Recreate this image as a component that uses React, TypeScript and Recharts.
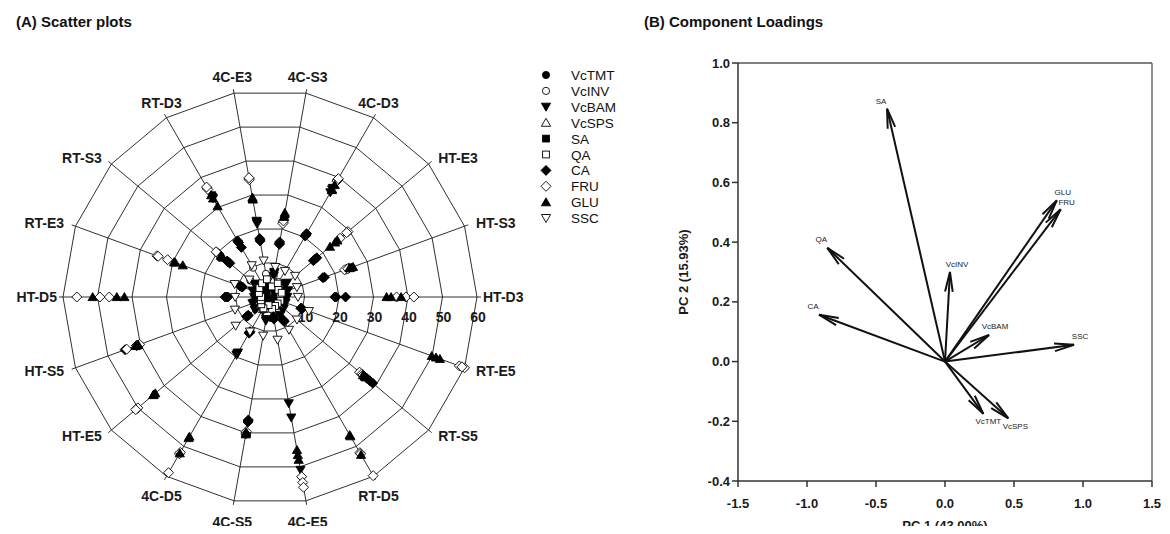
import React from 'react';
import {
  RadarChart,
  PolarGrid,
  PolarAngleAxis,
  PolarRadiusAxis,
  Radar,
  Legend,
  LineChart,
  Line,
  XAxis,
  YAxis,
  ReferenceLine,
} from 'recharts';

const FONT = '"Liberation Sans", Arial, Helvetica, sans-serif';

// ---------- Panel A data (polar scatter) ----------
// categories listed counter-clockwise starting at 3 o'clock
const CATEGORIES = [
  'HT-D3', 'HT-S3', 'HT-E3', '4C-D3', '4C-S3', '4C-E3', 'RT-D3', 'RT-S3', 'RT-E3',
  'HT-D5', 'HT-S5', 'HT-E5', '4C-D5', '4C-S5', '4C-E5', 'RT-D5', 'RT-S5', 'RT-E5',
];
const RADIUS_TICKS = [0, 10, 20, 30, 40, 50, 60];

const VCTMT = [2.2, 2.8, 3.1, 3.4, 4.0, 3.6, 3.0, 2.6, 2.4, 2.0, 2.3, 2.9, 3.5, 3.9, 3.3, 2.9, 2.5, 2.1];
const VCINV = [3.0, 3.6, 4.2, 5.0, 6.2, 6.8, 9.8, 7.4, 4.1, 3.2, 3.0, 3.6, 4.3, 5.1, 4.6, 4.0, 3.4, 3.1];
const VCBAM_R1 = [4.5, 5.2, 6.0, 36.0, 7.0, 22.0, 33.5, 5.5, 5.0, 4.2, 5.0, 5.4, 19.0, 6.5, 31.3, 5.6, 4.8, 4.4];
const VCBAM_R2 = [4.0, 4.8, 5.5, 35.0, 6.2, 21.5, 33.0, 5.0, 4.6, 3.8, 4.6, 5.0, 18.6, 6.0, 35.5, 5.2, 4.4, 4.0];
const VCBAM_R3 = [5.0, 5.6, 6.4, 36.5, 7.4, 22.4, 34.0, 6.0, 5.4, 4.6, 5.4, 5.8, 19.4, 7.0, 50.9, 6.0, 5.2, 4.8];
const VCSPS = [2.6, 3.2, 3.8, 4.1, 4.6, 5.0, 4.2, 3.5, 3.0, 2.7, 3.1, 3.4, 4.0, 4.4, 4.1, 3.6, 3.0, 2.6];
const SA = [1.5, 1.8, 2.2, 2.6, 3.0, 2.7, 2.2, 1.6, 1.4, 1.2, 1.5, 1.9, 2.4, 2.6, 2.1, 1.9, 1.6, 1.4];
const QA = [3.0, 3.6, 3.2, 4.5, 3.1, 5.2, 4.6, 4.0, 3.4, 2.6, 2.8, 3.3, 3.8, 2.4, 3.5, 3.0, 2.9, 3.2];
const CA_R1 = [18.8, 16.3, 16.4, 20.8, 15.8, 16.8, 18.8, 16.2, 8.5, 12.6, 44.7, 8.2, 11.6, 36.5, 5.8, 7.6, 36.6, 9.9];
const CA_R2 = [21.9, 24.3, 17.7, 20.4, 16.2, 17.2, 16.6, 15.2, 9.2, 13.0, 41.2, 8.8, 12.1, 36.2, 6.5, 8.2, 37.8, 9.5];
const CA_R3 = [19.2, 16.8, 17.0, 21.2, 15.5, 16.5, 18.2, 15.8, 8.8, 12.2, 40.6, 8.5, 11.9, 36.8, 6.1, 7.9, 38.8, 9.7];
const FRU_R1 = [36.7, 23.5, 29.5, 39.3, 22.0, 34.8, 36.5, 20.0, 34.9, 56.0, 41.0, 50.5, 58.8, 40.0, 52.9, 59.8, 33.9, 58.4];
const FRU_R2 = [39.4, 23.0, 26.5, 38.8, 21.6, 34.5, 36.0, 19.5, 31.6, 49.3, 40.2, 50.0, 52.5, 39.6, 54.6, 52.1, 34.7, 60.0];
const FRU_R3 = [41.7, 24.0, 29.0, 39.6, 22.4, 35.1, 36.8, 20.4, 34.5, 46.6, 44.2, 50.8, 52.0, 40.3, 56.0, 52.5, 35.2, 59.2];
const GLU_R1 = [33.8, 25.0, 24.6, 36.0, 24.3, 29.0, 34.1, 18.2, 29.6, 51.4, 41.5, 44.2, 52.3, 40.1, 45.0, 46.2, 35.8, 49.9];
const GLU_R2 = [35.1, 25.6, 22.7, 37.5, 23.6, 29.3, 33.0, 18.6, 26.9, 44.4, 40.6, 43.4, 46.7, 39.8, 46.5, 52.8, 36.2, 52.4];
const GLU_R3 = [38.0, 24.5, 25.5, 35.8, 24.8, 28.7, 30.4, 17.8, 29.2, 42.2, 41.0, 44.0, 47.2, 40.4, 47.9, 46.6, 35.2, 51.2];
const SSC = [8.1, 8.3, 9.5, 8.7, 8.8, 10.7, 10.6, 7.8, 10.9, 10.1, 10.8, 13.0, 11.6, 11.4, 12.6, 11.0, 10.2, 12.0];

const LEGEND_NAMES = ['VcTMT', 'VcINV', 'VcBAM', 'VcSPS', 'SA', 'QA', 'CA', 'FRU', 'GLU', 'SSC'];
const MARKER_OF: Record<string, string> = {
  VcTMT: 'circle', VcINV: 'circleOpen', VcBAM: 'triDown', VcSPS: 'triUpOpen', SA: 'square',
  QA: 'squareOpen', CA: 'diamond', FRU: 'diamondOpen', GLU: 'triUp', SSC: 'triDownOpen',
};

const SERIES: { key: string; variable: string; values: number[] }[] = [
  { key: 'VcTMT', variable: 'VcTMT', values: VCTMT },
  { key: 'VcINV', variable: 'VcINV', values: VCINV },
  { key: 'VcBAM_1', variable: 'VcBAM', values: VCBAM_R1 },
  { key: 'VcBAM_2', variable: 'VcBAM', values: VCBAM_R2 },
  { key: 'VcBAM_3', variable: 'VcBAM', values: VCBAM_R3 },
  { key: 'VcSPS', variable: 'VcSPS', values: VCSPS },
  { key: 'SA', variable: 'SA', values: SA },
  { key: 'QA', variable: 'QA', values: QA },
  { key: 'CA_1', variable: 'CA', values: CA_R1 },
  { key: 'CA_2', variable: 'CA', values: CA_R2 },
  { key: 'CA_3', variable: 'CA', values: CA_R3 },
  { key: 'FRU_1', variable: 'FRU', values: FRU_R1 },
  { key: 'FRU_2', variable: 'FRU', values: FRU_R2 },
  { key: 'FRU_3', variable: 'FRU', values: FRU_R3 },
  { key: 'GLU_1', variable: 'GLU', values: GLU_R1 },
  { key: 'GLU_2', variable: 'GLU', values: GLU_R2 },
  { key: 'GLU_3', variable: 'GLU', values: GLU_R3 },
  { key: 'SSC', variable: 'SSC', values: SSC },
];

// Recharts lays categories out clockwise; feed them in clockwise order so that
// the picture reads counter-clockwise from HT-D3 at 3 o'clock.
const CLOCKWISE_ORDER = CATEGORIES.map((_, k) => (CATEGORIES.length - k) % CATEGORIES.length);
const radarData = CLOCKWISE_ORDER.map((i) => {
  const row: Record<string, any> = { cat: CATEGORIES[i] };
  SERIES.forEach((s) => {
    row[s.key] = s.values[i];
  });
  return row;
});

// ---------- Panel B data (loadings biplot) ----------
const LOADING_NAMES = ['SA', 'QA', 'VcINV', 'GLU', 'FRU', 'CA', 'VcBAM', 'SSC', 'VcTMT', 'VcSPS'];
const PC1 = [-0.42, -0.853, 0.036, 0.81, 0.838, -0.913, 0.319, 0.935, 0.278, 0.459];
const PC2 = [0.847, 0.381, 0.3, 0.54, 0.51, 0.157, 0.089, 0.056, -0.175, -0.19];
const X_TICKS = [-1.5, -1.0, -0.5, 0.0, 0.5, 1.0, 1.5];
const Y_TICKS = [-0.4, -0.2, 0.0, 0.2, 0.4, 0.6, 0.8, 1.0];

// label offsets (pixels) relative to arrow tip – style only
const LABEL_OFFSET: Record<string, [number, number]> = {
  SA: [-6, -7], QA: [-6, -8], VcINV: [7, -8], GLU: [6, -8], FRU: [6, -7],
  CA: [-6, -8], VcBAM: [6, -8], SSC: [6, -8], VcTMT: [5, 8], VcSPS: [7, 8],
};

// ---------- drawing helpers ----------
function drawMarker(kind: string, x: number, y: number, key?: string) {
  const sw = 0.9;
  const open = kind.endsWith('Open');
  const fill = open ? '#ffffff' : '#000000';
  const base = kind.replace('Open', '');
  const common = { fill, stroke: '#000000', strokeWidth: sw, key };
  switch (base) {
    case 'circle':
      return <circle cx={x} cy={y} r={3.6} {...common} />;
    case 'square':
      return <rect x={x - 3.4} y={y - 3.4} width={6.8} height={6.8} {...common} />;
    case 'triDown':
      return <path d={`M${x - 4.6},${y - 3.6}L${x + 4.6},${y - 3.6}L${x},${y + 4.4}Z`} {...common} />;
    case 'triUp':
      return <path d={`M${x - 4.6},${y + 3.6}L${x + 4.6},${y + 3.6}L${x},${y - 4.4}Z`} {...common} />;
    case 'diamond':
    default:
      return <path d={`M${x},${y - 5}L${x + 5},${y}L${x},${y + 5}L${x - 5},${y}Z`} {...common} />;
  }
}

function makeRadarDot(seriesKey: string, kind: string) {
  return (p: any) => {
    if (p == null || p.cx == null || p.cy == null) return <g key={`${seriesKey}-e-${p?.index}`} />;
    return drawMarker(kind, p.cx, p.cy, `${seriesKey}-${p.index}`);
  };
}

function AngleTick(props: any) {
  const { x, y, cx, cy, payload } = props;
  let ux: number;
  let uy: number;
  if (typeof cx === 'number' && typeof cy === 'number' && (x !== cx || y !== cy)) {
    const d = Math.hypot(x - cx, y - cy);
    ux = (x - cx) / d;
    uy = (y - cy) / d;
  } else {
    const a = ((payload?.coordinate ?? 0) * Math.PI) / 180;
    ux = Math.cos(a);
    uy = -Math.sin(a);
  }
  const px = x + ux * 6;
  const py = y + uy * 6;
  let anchor: 'start' | 'middle' | 'end' = 'middle';
  let tx = px;
  let ty = py;
  if (Math.abs(ux) < 0.6) {
    anchor = 'middle';
    ty = uy < 0 ? py - 1 : py + 16;
  } else {
    const sign = ux > 0 ? 1 : -1;
    anchor = ux > 0 ? 'start' : 'end';
    tx = px + sign * 2 - (Math.abs(uy) < 0.2 ? sign * 6 : 0);
    ty = py + 5;
  }
  return (
    <text x={tx} y={ty} textAnchor={anchor} fontFamily={FONT} fontSize={14} fontWeight="bold" fill="#1a1a1a">
      {payload?.value}
    </text>
  );
}

function RadiusTick(props: any) {
  const { x, y, payload } = props;
  return (
    <text x={x + 1} y={y + 25} textAnchor="middle" fontFamily={FONT} fontSize={14} fontWeight="bold" fill="#1a1a1a">
      {payload?.value}
    </text>
  );
}

function LegendBox() {
  const rowH = 15.9;
  return (
    <svg width={110} height={175} style={{ display: 'block', overflow: 'visible' }}>
      {LEGEND_NAMES.map((name, i) => {
        const yy = 11 + i * rowH;
        return (
          <g key={name}>
            {drawMarker(MARKER_OF[name], 10, yy, `lg-${name}`)}
            <text x={35} y={yy + 5} fontFamily={FONT} fontSize={13.5} fill="#111">
              {name}
            </text>
          </g>
        );
      })}
    </svg>
  );
}

function makeArrowDot(name: string) {
  const state = { ox: NaN, oy: NaN };
  return (p: any) => {
    const { cx, cy, index, points } = p;
    if (index === 0) {
      state.ox = cx;
      state.oy = cy;
      return <g key={`${name}-origin`} />;
    }
    let ox = state.ox;
    let oy = state.oy;
    if (points && points[0] && typeof points[0].x === 'number') {
      ox = points[0].x;
      oy = points[0].y;
    }
    const dx = ox - cx;
    const dy = oy - cy;
    const len = Math.hypot(dx, dy) || 1;
    const ux = dx / len;
    const uy = dy / len;
    const L = 20;
    const a = (11 * Math.PI) / 180;
    const c = Math.cos(a);
    const s = Math.sin(a);
    const b1x = cx + L * (ux * c - uy * s);
    const b1y = cy + L * (ux * s + uy * c);
    const b2x = cx + L * (ux * c + uy * s);
    const b2y = cy + L * (-ux * s + uy * c);
    const off = LABEL_OFFSET[name] || [0, 0];
    return (
      <g key={`${name}-tip`}>
        <path d={`M${b1x},${b1y}L${cx},${cy}L${b2x},${b2y}`} fill="none" stroke="#111" strokeWidth={2} strokeLinejoin="miter" />
        <text
          x={cx + off[0]}
          y={cy + off[1]}
          textAnchor="middle"
          dominantBaseline="central"
          fontFamily={FONT}
          fontSize={8}
          fill="#222"
        >
          {name}
        </text>
      </g>
    );
  };
}

const tickStyle = { fontFamily: FONT, fontSize: 13, fontWeight: 'bold' as const, fill: '#1a1a1a' };

export default function App() {
  return (
    <div style={{ position: 'relative', width: 1170, height: 534, margin: -8, background: '#fff', fontFamily: FONT }}>
      <svg width={1170} height={40} style={{ position: 'absolute', left: 0, top: 0 }}>
        <text x={16} y={27} fontFamily={FONT} fontSize={15} fontWeight="bold" fill="#111">
          (A) Scatter plots
        </text>
        <text x={644} y={27} fontFamily={FONT} fontSize={15} fontWeight="bold" fill="#111">
          (B) Component Loadings
        </text>
      </svg>

      <div style={{ position: 'absolute', left: 0, top: 0 }}>
        <RadarChart
          width={640}
          height={534}
          data={radarData}
          cx={270}
          cy={297}
          outerRadius={207}
          startAngle={0}
          endAngle={-360}
          margin={{ top: 0, right: 0, bottom: 0, left: 0 }}
        >
          <PolarGrid gridType="polygon" stroke="#1a1a1a" strokeWidth={0.9} />
          <PolarAngleAxis
            dataKey="cat"
            tick={<AngleTick />}
            tickLine={{ stroke: '#1a1a1a', strokeWidth: 0.9 }}
            tickSize={4}
            axisLine={false}
          />
          <PolarRadiusAxis
            angle={0}
            type="number"
            domain={[0, 60]}
            ticks={RADIUS_TICKS}
            tickCount={7}
            axisLine={false}
            tickLine={false}
            tick={<RadiusTick />}
          />
          {SERIES.map((s) => (
            <Radar
              key={s.key}
              name={s.key}
              dataKey={s.key}
              stroke="none"
              fill="none"
              fillOpacity={0}
              dot={makeRadarDot(s.key, MARKER_OF[s.variable])}
              activeDot={false}
              isAnimationActive={false}
              legendType="none"
            />
          ))}
          <Legend
            content={() => <LegendBox />}
            wrapperStyle={{ position: 'absolute', left: 536, top: 64, width: 110, height: 175 }}
          />
        </RadarChart>
      </div>

      <div style={{ position: 'absolute', left: 640, top: 40 }}>
        <LineChart width={530} height={494} margin={{ top: 23, right: 18, left: 38, bottom: 3 }}>
          <XAxis
            type="number"
            dataKey="x"
            domain={[-1.5, 1.5]}
            ticks={X_TICKS}
            allowDataOverflow
            tickFormatter={(v: number) => v.toFixed(1)}
            tick={tickStyle}
            tickSize={6}
            tickMargin={12}
            height={50}
            axisLine={{ stroke: '#333', strokeWidth: 1.5 }}
            tickLine={{ stroke: '#333', strokeWidth: 1.5 }}
            label={{
              value: 'PC 1 (43.00%)',
              position: 'insideBottom',
              offset: 1,
              style: { fontFamily: FONT, fontSize: 13, fontWeight: 'bold', fill: '#1a1a1a' },
            }}
          />
          <YAxis
            type="number"
            domain={[-0.4, 1.0]}
            ticks={Y_TICKS}
            allowDataOverflow
            tickFormatter={(v: number) => v.toFixed(1)}
            tick={tickStyle}
            tickSize={6}
            tickMargin={2}
            width={60}
            axisLine={{ stroke: '#333', strokeWidth: 1.5 }}
            tickLine={{ stroke: '#333', strokeWidth: 1.5 }}
            label={{
              value: 'PC 2 (15.93%)',
              angle: -90,
              position: 'insideLeft',
              offset: 5,
              style: { textAnchor: 'middle', fontFamily: FONT, fontSize: 13, fontWeight: 'bold', fill: '#1a1a1a' },
            }}
          />
          <ReferenceLine y={1.0} stroke="#555" strokeWidth={1.3} ifOverflow="visible" />
          <ReferenceLine x={1.5} stroke="#555" strokeWidth={1.3} ifOverflow="visible" />
          {LOADING_NAMES.map((name, i) => (
            <Line
              key={name}
              data={[
                { x: 0, y: 0 },
                { x: PC1[i], y: PC2[i] },
              ]}
              dataKey="y"
              type="linear"
              stroke="#111"
              strokeWidth={2}
              dot={makeArrowDot(name)}
              activeDot={false}
              isAnimationActive={false}
              legendType="none"
            />
          ))}
        </LineChart>
      </div>
    </div>
  );
}
